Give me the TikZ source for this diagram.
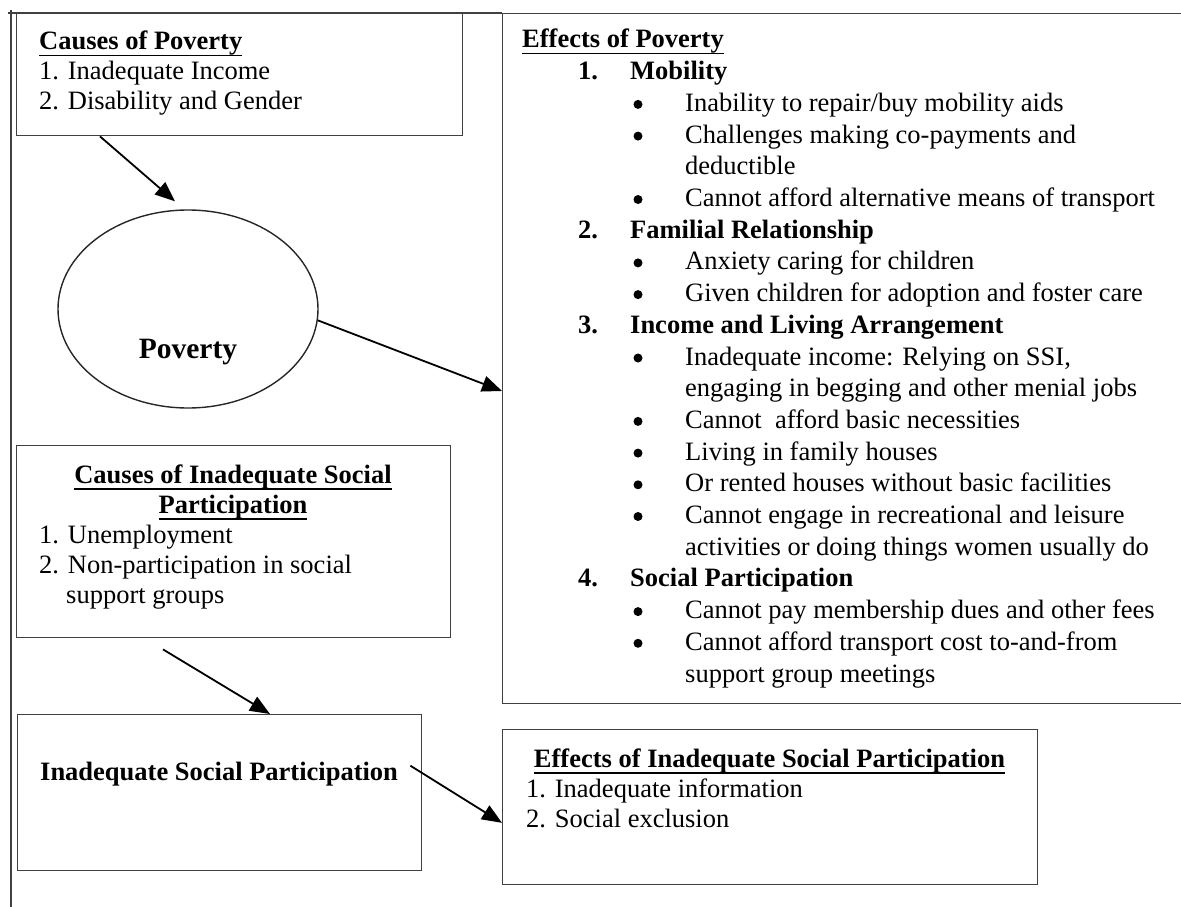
\documentclass[tikz,border=0pt]{standalone}
\usepackage{fontspec}
\setmainfont{Liberation Serif}
\usetikzlibrary{shapes.geometric,arrows.meta,calc}
\newcommand\bodyfont{\fontsize{26.5pt}{31.7pt}\selectfont}
\newsavebox\ulsave
\newcommand\ulx[1]{\sbox\ulsave{#1}\rlap{\rule[-6.5pt]{\wd\ulsave}{1.8pt}}\usebox\ulsave}
\begin{document}
\begin{tikzpicture}[x=1pt,y=-1pt,
  box/.style={draw=black!75, line width=1.4pt, rectangle, inner sep=0pt, anchor=north west},
  oval/.style={draw=black!85, line width=1.4pt, ellipse, inner sep=0pt},
  txt/.style={anchor=base west, inner sep=0pt, font=\bodyfont},
  ctxt/.style={anchor=base, inner sep=0pt, font=\bodyfont},
  dot/.style={circle, fill=black, inner sep=0pt, minimum size=9pt},
  arr/.style={line width=1.8pt, -{Triangle[length=20pt,width=16pt]}},
  outerline/.style={line width=1.4pt, draw=black!75}]
\useasboundingbox (0,0) rectangle (1181,907);
% outer frame
\draw[outerline] (11,910) -- (11,10);
\draw[outerline] (8,13) -- (502,13);
% boxes
\node[box, minimum width=446pt, minimum height=122pt] (cp) at (16,13) {};
\node[box, minimum width=690pt, minimum height=690pt] (eff) at (502,13) {};
\node[oval, minimum width=260pt, minimum height=198pt] (pov) at (188,309) {};
\node[box, minimum width=434pt, minimum height=192pt] (cisp) at (16,445) {};
\node[box, minimum width=404pt, minimum height=156pt] (isp) at (17,714) {};
\node[box, minimum width=535pt, minimum height=155pt] (eisp) at (502,729) {};
% causes of poverty
\node[txt] (cp0) at (39,50) {\ulx{\textbf{Causes of Poverty}}};
\node[txt] (cp1) at (39,80) {1. Inadequate Income};
\node[txt] (cp2) at (39,110) {2. Disability and Gender};
% poverty
\node[anchor=base, inner sep=0pt, font=\fontsize{29.5pt}{32pt}\selectfont\bfseries] (povt) at (188,358) {Poverty};
% effects of poverty
\node[txt] (e0) at (522,48) {\ulx{\textbf{Effects of Poverty}}};
\node[txt] (n1) at (578,79.7) {\textbf{1.}};
\node[txt] (e1) at (630,79.7) {\textbf{Mobility}};
\node[txt] (e2) at (685,111.4) {Inability to repair/buy mobility aids};
\node[txt] (e3) at (685,143.1) {Challenges making co-payments and};
\node[txt] (e4) at (685,174.8) {deductible};
\node[txt] (e5) at (685,206.5) {Cannot afford alternative means of transport};
\node[txt] (n2) at (578,238.2) {\textbf{2.}};
\node[txt] (e6) at (630,238.2) {\textbf{Familial Relationship}};
\node[txt] (e7) at (685,269.9) {Anxiety caring for children};
\node[txt] (e8) at (685,301.6) {Given children for adoption and foster care};
\node[txt] (n3) at (578,333.3) {\textbf{3.}};
\node[txt] (e9) at (630,333.3) {\textbf{Income and Living Arrangement}};
\node[txt] (e10) at (685,365) {Inadequate income: Relying on SSI,};
\node[txt] (e11) at (685,396.7) {engaging in begging and other menial jobs};
\node[txt] (e12) at (685,428.4) {Cannot~ afford basic necessities};
\node[txt] (e13) at (685,460.1) {Living in family houses};
\node[txt] (e14) at (685,491.8) {Or rented houses without basic facilities};
\node[txt] (e15) at (685,523.5) {Cannot engage in recreational and leisure};
\node[txt] (e16) at (685,555.2) {activities or doing things women usually do};
\node[txt] (n4) at (578,586.9) {\textbf{4.}};
\node[txt] (e17) at (630,586.9) {\textbf{Social Participation}};
\node[txt] (e18) at (685,618.6) {Cannot pay membership dues and other fees};
\node[txt] (e19) at (685,650.3) {Cannot afford transport cost to-and-from};
\node[txt] (e20) at (685,682) {support group meetings};
\foreach \i in {2,3,5,7,8,10,12,13,14,15,18,19}
  \node[dot] (b\i) at (638,{41+31.7*\i}) {};
% causes of inadequate social participation
\node[ctxt] (ci0) at (233,483) {\ulx{\textbf{Causes of Inadequate Social}}};
\node[ctxt] (ci1) at (233,513) {\ulx{\textbf{Participation}}};
\node[txt] (ci2) at (39,543) {1. Unemployment};
\node[txt] (ci3) at (39,573) {2. Non-participation in social};
\node[txt] (ci4) at (66,603) {support groups};
% inadequate social participation
\node[txt] (ispt) at (40,780) {\textbf{Inadequate Social Participation}};
% effects of inadequate social participation
\node[ctxt] (ei0) at (769.5,767) {\ulx{\textbf{Effects of Inadequate Social Participation}}};
\node[txt] (ei1) at (526,797) {1. Inadequate information};
\node[txt] (ei2) at (526,827) {2. Social exclusion};
% connectors
\draw[arr] ($(cp.south west)+(84,0)$) -- ($(pov.north)+(-13,-8)$);
\draw[arr] (pov.-5) -- ($(eff.north west)+(0,378)$);
\draw[arr] ($(cisp.south west)+(147,11)$) -- ($(isp.north west)+(253,0)$);
\draw[arr] ($(isp.east)+(-12,-27)$) -- ($(eisp.north west)!0.6!(eisp.south west)$);
\end{tikzpicture}
\end{document}
